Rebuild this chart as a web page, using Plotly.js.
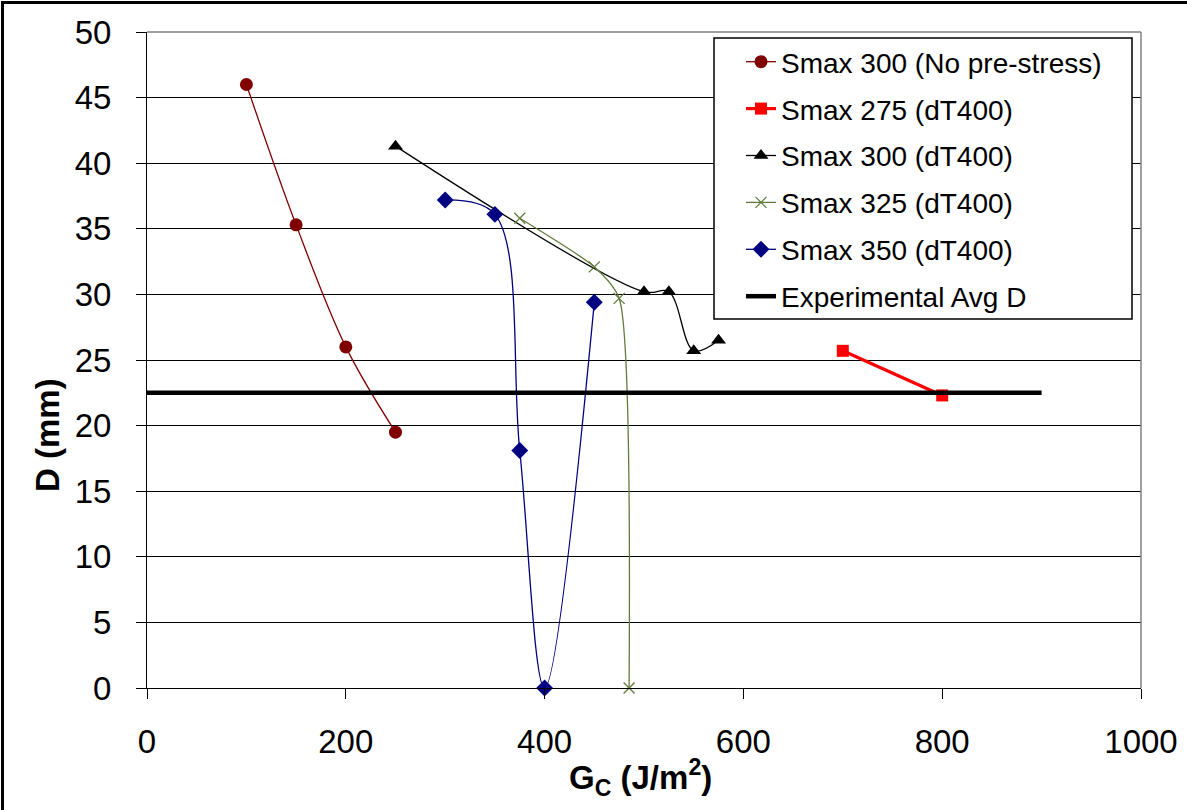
<!DOCTYPE html>
<html>
<head>
<meta charset="utf-8">
<script src="https://cdn.plot.ly/plotly-3.0.1.min.js"></script>
<style>
  html, body { margin: 0; padding: 0; background: #fff; }
  #wrap { position: relative; width: 1187px; height: 810px; }
  #chart { width: 1187px; height: 810px; }
  #frame { position: absolute; left: 1px; top: 1px; width: 1186px; height: 809px;
           border-top: 3px solid #000; border-left: 3px solid #000; box-sizing: border-box;
           pointer-events: none; }
</style>
</head>
<body>
<div id="wrap">
  <div id="chart"></div>
  <div id="frame"></div>
</div>
<script>
// Fracture energy G_C (J/m^2) against damage length D (mm)
const gcNoPre = [100, 150, 200, 250];
const dNoPre  = [46.0, 35.3, 26.0, 19.5];

const gc275 = [700, 800];
const d275  = [25.7, 22.3];

const gc300 = [250, 500, 525, 550, 575];
const d300  = [41.3, 30.2, 30.2, 25.7, 26.5];

const gc325 = [375, 450, 475, 485];
const d325  = [35.8, 32.1, 29.7, 0];

const gc350 = [300, 350, 375, 400, 450];
const d350  = [37.2, 36.1, 18.1, 0, 29.4];

const gcAvg = [0, 900];
const dAvg  = [22.5, 22.5];

const seriesNames = [
  'Smax 300 (No pre-stress)',
  'Smax 275 (dT400)',
  'Smax 300 (dT400)',
  'Smax 325 (dT400)',
  'Smax 350 (dT400)',
  'Experimental Avg D'
];

const FONT = '"Liberation Sans", Arial, sans-serif';

// plot-area pixel box
const L = 147, R = 1141, T = 32, B = 688;
const W = 1187, H = 810;
const px2x = p => (p - L) / (R - L);
const px2y = p => (B - p) / (B - T);

const traces = [
  { x: gcNoPre, y: dNoPre, name: seriesNames[0], mode: 'lines+markers',
    line: { color: '#800000', width: 1.3, shape: 'spline', smoothing: 1 },
    marker: { symbol: 'circle', size: 13, color: '#800000' } },
  { x: gc275, y: d275, name: seriesNames[1], mode: 'lines+markers',
    line: { color: '#ff0000', width: 3.2 },
    marker: { symbol: 'square', size: 12, color: '#ff0000' } },
  { x: gc300, y: d300, name: seriesNames[2], mode: 'lines+markers',
    line: { color: '#000000', width: 1.3, shape: 'spline', smoothing: 1 },
    marker: { symbol: 'triangle-up', size: 13, color: '#000000' } },
  { x: gc325, y: d325, name: seriesNames[3], mode: 'lines+markers',
    line: { color: '#627a3c', width: 1.3, shape: 'spline', smoothing: 0.6 },
    marker: { symbol: 'x-thin', size: 11, line: { color: '#627a3c', width: 1.3 } } },
  { x: gc350, y: d350, name: seriesNames[4], mode: 'lines+markers',
    line: { color: '#000080', width: 1.3, shape: 'spline', smoothing: 1 },
    marker: { symbol: 'diamond', size: 13, color: '#000080' } },
  { x: gcAvg, y: dAvg, name: seriesNames[5], mode: 'lines',
    line: { color: '#000000', width: 4.5 } }
].map((t, i) => Object.assign(t, { type: 'scatter', cliponaxis: false, legendgroup: 'g' + i }));

const layout = {
  width: W, height: H,
  paper_bgcolor: '#ffffff', plot_bgcolor: '#ffffff',
  margin: { l: L, r: W - R, t: T, b: H - B, pad: 0 },
  font: { family: FONT, color: '#000' },
  showlegend: true,
  legend: {
    x: px2x(741), y: px2y(37), xanchor: 'left', yanchor: 'top',
    bgcolor: 'rgba(0,0,0,0)', borderwidth: 0,
    font: { family: FONT, size: 28, color: '#000' },
    traceorder: 'grouped', tracegroupgap: 7.5,
    itemwidth: 30
  },
  xaxis: {
    range: [0, 1000], dtick: 200, tick0: 0,
    showgrid: false, zeroline: false,
    showline: true, linecolor: '#000', linewidth: 1,
    ticks: 'outside', ticklen: 10, tickcolor: '#000', tickwidth: 1,
    tickfont: { family: FONT, size: 33, color: '#000' },
    ticklabelstandoff: 14
  },
  yaxis: {
    range: [0, 50], dtick: 5, tick0: 0,
    showgrid: true, gridcolor: '#000', gridwidth: 1,
    zeroline: false,
    showline: true, linecolor: '#000', linewidth: 1,
    ticks: 'outside', ticklen: 10, tickcolor: '#000', tickwidth: 1,
    tickfont: { family: FONT, size: 33, color: '#000' },
    ticklabelstandoff: 18
  },
  shapes: [
    // plot-area frame, top and right edges
    { type: 'line', xref: 'paper', yref: 'paper', x0: 0, x1: 1, y0: 1, y1: 1,
      line: { color: '#808080', width: 1.5 }, layer: 'above' },
    { type: 'line', xref: 'paper', yref: 'paper', x0: 1, x1: 1, y0: 0, y1: 1,
      line: { color: '#808080', width: 1.5 }, layer: 'above' },
    // legend box
    { type: 'rect', xref: 'paper', yref: 'paper',
      x0: px2x(714), x1: px2x(1132), y0: px2y(319), y1: px2y(38),
      fillcolor: '#ffffff', line: { color: '#000', width: 1.5 }, layer: 'above' }
  ],
  annotations: [
    { xref: 'paper', yref: 'paper', x: px2x(640), y: px2y(777),
      xanchor: 'center', yanchor: 'middle', showarrow: false,
      text: '<b>G<sub>C</sub> (J/m<sup>2</sup>)</b>',
      font: { family: FONT, size: 33, color: '#000' } },
    { xref: 'paper', yref: 'paper', x: px2x(48), y: px2y(435),
      xanchor: 'center', yanchor: 'middle', showarrow: false, textangle: -90,
      text: '<b>D (mm)</b>',
      font: { family: FONT, size: 33, color: '#000' } }
  ]
};

Plotly.newPlot('chart', traces, layout, { staticPlot: true, displayModeBar: false });
</script>
</body>
</html>
